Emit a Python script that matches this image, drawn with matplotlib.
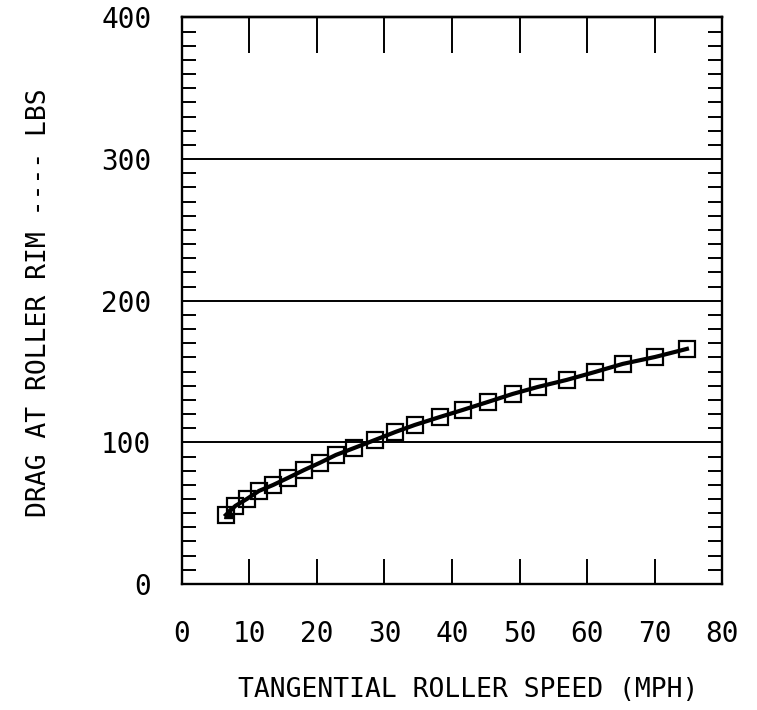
import numpy as np
import matplotlib.pyplot as plt
from matplotlib.ticker import MultipleLocator

## Data
speed_mph = [6.5, 7.9, 9.6, 11.4, 13.5, 15.7, 18.1, 20.4, 22.8, 25.5, 28.6, 31.6,
             34.5, 38.2, 41.6, 45.3, 49.0, 52.7, 57.0, 61.2, 65.3, 70.1, 74.8]
drag_lbs = [48.7, 55.1, 60.0, 65.7, 69.9, 74.9, 80.5, 85.5, 91.1, 96.0, 101.7, 107.3,
            112.3, 117.9, 122.9, 128.5, 134.2, 139.1, 144.1, 149.7, 155.4, 160.3, 166.0]
x_ticks = [0, 10, 20, 30, 40, 50, 60, 70, 80]
y_ticks = [0, 100, 200, 300, 400]
grid_levels = [100, 200, 300]

plt.rcParams['font.family'] = ['DejaVu Sans Mono', 'DejaVu Sans']

fig = plt.figure(figsize=(7.57, 7.10), dpi=100)
ax = fig.add_axes([0.2404, 0.1775, 0.7134, 0.7979])

for g in grid_levels:  # horizontal rules at each hundred
    ax.axhline(g, color='k', lw=1.4, zorder=1)

ax.plot(speed_mph, drag_lbs, color='k', lw=3.0, marker='s', ms=11.5,
        mfc='none', mec='k', mew=1.6, zorder=3)
ax.plot(speed_mph[0] + 0.4, drag_lbs[0] + 1.5, marker='^', ms=7, color='k', zorder=4)

ax.set_xlim(0, 80)
ax.set_ylim(0, 400)
for s in ax.spines.values():
    s.set_linewidth(1.7)

ax.set_xticks(x_ticks)
ax.set_yticks(y_ticks)
ax.yaxis.set_minor_locator(MultipleLocator(10))
ax.tick_params(axis='x', which='major', direction='in', length=18, width=1.4,
               bottom=True, top=False, labelsize=20, pad=26)
ax.tick_params(axis='y', which='major', direction='in', length=0,
               labelsize=20, pad=22)
ax.tick_params(axis='y', which='minor', direction='in', length=10, width=1.4,
               left=True, right=True)

top = ax.secondary_xaxis('top')  # longer ticks along the top edge
top.set_xticks(x_ticks)
top.tick_params(direction='in', length=26, width=1.4, labeltop=False)
top.spines['top'].set_linewidth(1.7)

fig.text(0.618, 0.028, 'TANGENTIAL ROLLER SPEED (MPH)', fontsize=19,
         ha='center', va='center')
fig.text(0.051, 0.573, 'DRAG AT ROLLER RIM ---- LBS', fontsize=19,
         ha='center', va='center', rotation=90)

fig.savefig('out.png', dpi=100)
